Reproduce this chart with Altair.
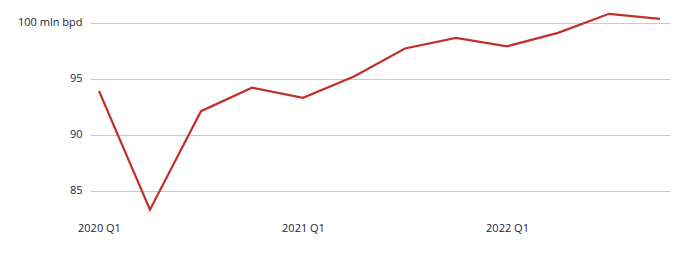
import altair as alt
import pandas as pd

quarters = ["2020 Q1", "2020 Q2", "2020 Q3", "2020 Q4",
            "2021 Q1", "2021 Q2", "2021 Q3", "2021 Q4",
            "2022 Q1", "2022 Q2", "2022 Q3", "2022 Q4"]
demand = [93.9, 83.3, 92.1, 94.2, 93.3, 95.2, 97.7, 98.65, 97.9, 99.1, 100.8, 100.35]

df = pd.DataFrame({"idx": list(range(len(quarters))), "q": quarters, "v": demand})

label_expr = ("datum.value == 0 ? '2020 Q1' : datum.value == 4 ? '2021 Q1' : "
              "datum.value == 8 ? '2022 Q1' : ''")
ylabel_expr = "datum.value == 100 ? '100 mln bpd' : datum.label"

chart = alt.Chart(df).mark_line(color="#c1302b", strokeWidth=2.2).encode(
    x=alt.X("idx:Q", scale=alt.Scale(domain=[-0.176, 11.196], nice=False, zero=False),
            axis=alt.Axis(values=[0, 4, 8], labelExpr=label_expr, grid=False, domain=False,
                          ticks=False, labelPadding=9, labelFontSize=11,
                          labelColor="#1c2540", labelFont="Open Sans", title=None)),
    y=alt.Y("v:Q", scale=alt.Scale(domain=[83.0, 101.5], nice=False, zero=False),
            axis=alt.Axis(values=[85, 90, 95, 100], labelExpr=ylabel_expr, grid=True,
                          gridColor="#c3c9d8", gridWidth=1, domain=False, ticks=False,
                          labelPadding=8, labelFontSize=11, labelColor="#1c2540",
                          labelFont="Open Sans", title=None)),
).properties(
    width=580, height=207,
    autosize=alt.AutoSizeParams(type="none"),
    padding={"left": 90, "top": 6, "right": 30, "bottom": 42},
    background="white",
).configure_view(stroke=None, strokeWidth=0)

chart.save("out.html", embed_options={"renderer": "svg", "actions": False})
